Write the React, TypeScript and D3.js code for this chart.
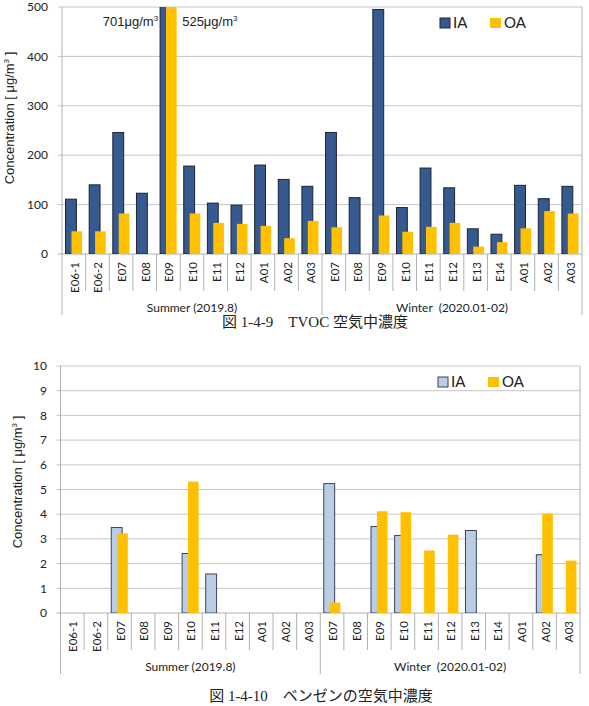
import React from "react";
import * as d3 from "d3";

const summerSites = ["E06-1", "E06-2", "E07", "E08", "E09", "E10", "E11", "E12", "A01", "A02", "A03"];
const winterSites = ["E07", "E08", "E09", "E10", "E11", "E12", "E13", "E14", "A01", "A02", "A03"];
const groupLabels = ["Summer (2019.8)", "Winter  (2020.01-02)"];

// TVOC (µg/m3): summer then winter
const tvocIA = [111, 140, 246, 123, 701, 178, 103, 99, 180, 151, 137, 246, 114, 495, 94, 174, 134, 51, 40, 139, 112, 137];
const tvocOA = [46, 46, 82, 0, 525, 82, 63, 61, 57, 32, 67, 54, 0, 78, 45, 55, 63, 15, 24, 52, 87, 82];
const tvocTicks = [0, 100, 200, 300, 400, 500];

// Benzene (µg/m3)
const benzIA = [0, 0, 3.46, 0, 0, 2.41, 1.58, 0, 0, 0, 0, 5.24, 0, 3.5, 3.14, 0, 0, 3.34, 0, 0, 2.36, 0];
const benzOA = [0, 0, 3.22, 0, 0, 5.32, 0, 0, 0, 0, 0, 0.42, 0, 4.12, 4.08, 2.53, 3.17, 0, 0, 0, 4.03, 2.12];
const benzTicks = [0, 1, 2, 3, 4, 5, 6, 7, 8, 9, 10];

const categories = [...summerSites.map((s, i) => "S" + i), ...winterSites.map((s, i) => "W" + i)];
const catLabels = [...summerSites, ...winterSites];

type ChartProps = {
  id: string;
  left: number; right: number; top: number; zero: number;
  ia: number[]; oa: number[]; ticks: number[]; max: number;
  iaFill: string; iaStroke: string;
  tickRight: number; ylabX: number; ylabY: number;
  legendY: number; legendX: number;
  annotations?: boolean;
};

function Chart(p: ChartProps) {
  const x = d3.scaleBand<string>().domain(categories).range([p.left, p.right]).padding(0);
  const y = d3.scaleLinear().domain([0, p.max]).range([p.zero, p.top]);
  const bw = x.bandwidth();
  const gridColor = "#c6c6c6";
  const axisColor = "#b0b0b0";
  const sepEnd = p.zero + 37;
  const grpEnd = p.zero + 61;
  const summerEnd = x(categories[summerSites.length])!;
  const fmt = (v: number) => String(v);
  return (
    <g>
      <defs>
        <clipPath id={p.id + "clip"}>
          <rect x={p.left} y={p.top} width={p.right - p.left} height={p.zero - p.top} />
        </clipPath>
      </defs>
      {p.ticks.map((t) => (
        <g key={t}>
          <line x1={p.left - 4} x2={p.right} y1={y(t)} y2={y(t)} stroke={t === 0 ? axisColor : gridColor} strokeWidth={1} />
          <text x={p.tickRight} y={y(t)} dy="0.35em" textAnchor="end" fontFamily="Lato, 'Open Sans', sans-serif" fontSize={12} fill="#222">{fmt(t)}</text>
        </g>
      ))}
      <line x1={p.right} x2={p.right} y1={p.top} y2={grpEnd} stroke={axisColor} />
      <line x1={p.left} x2={p.left} y1={p.top} y2={grpEnd} stroke={axisColor} />
      <line x1={summerEnd} x2={summerEnd} y1={p.zero} y2={grpEnd} stroke={axisColor} />
      {categories.map((c, i) => (
        i > 0 && i !== summerSites.length ? <line key={"s" + c} x1={x(c)!} x2={x(c)!} y1={p.zero} y2={sepEnd} stroke={axisColor} /> : null
      ))}
      <g clipPath={`url(#${p.id}clip)`}>
        {categories.map((c, i) => (
          p.ia[i] > 0 ? <rect key={"ia" + c} x={x(c)! + bw * 0.15} width={bw * 0.46} y={y(p.ia[i])} height={p.zero - y(p.ia[i])} fill={p.iaFill} stroke={p.iaStroke} strokeWidth={1} /> : null
        ))}
        {categories.map((c, i) => (
          p.oa[i] > 0 ? <rect key={"oa" + c} x={x(c)! + bw * 0.4} width={bw * 0.45} y={y(p.oa[i])} height={p.zero - y(p.oa[i])} fill="#FFC000" /> : null
        ))}
      </g>
      {categories.map((c, i) => (
        <text key={"l" + c} transform={`translate(${x(c)! + bw / 2 + 1},${p.zero + 8}) rotate(-90)`} dy="0.35em" textAnchor="end" fontFamily="Lato, 'Open Sans', sans-serif" fontSize={11.5} fill="#222">{catLabels[i]}</text>
      ))}
      <text x={(p.left + summerEnd) / 2} y={p.zero + 54} dy="0.35em" textAnchor="middle" fontFamily="Lato, 'Open Sans', sans-serif" fontSize={12} fill="#222">{groupLabels[0]}</text>
      <text x={(summerEnd + p.right) / 2} y={p.zero + 54} dy="0.35em" textAnchor="middle" fontFamily="Lato, 'Open Sans', sans-serif" fontSize={12} fill="#222" xmlSpace="preserve" style={{ whiteSpace: "pre" }}>{groupLabels[1]}</text>
      <text transform={`translate(${p.ylabX},${p.ylabY}) rotate(-90)`} dy="0.35em" textAnchor="middle" fontFamily="'Liberation Sans', Arial, sans-serif" fontSize={13} fill="#222">
        Concentration [ μg/m<tspan dy="-5" fontSize={8}>3</tspan><tspan dy="5"> ]</tspan>
      </text>
      <rect x={p.legendX} y={p.legendY - 5} width={10} height={10} fill={p.iaFill} stroke={p.iaStroke} strokeWidth={1} />
      <text x={p.legendX + 13} y={p.legendY} dy="0.35em" fontFamily="Lato, 'Open Sans', sans-serif" fontSize={15} fill="#222">IA</text>
      <rect x={p.legendX + 50} y={p.legendY - 5} width={11} height={10} fill="#FFC000" />
      <text x={p.legendX + 64} y={p.legendY} dy="0.35em" fontFamily="Lato, 'Open Sans', sans-serif" fontSize={15} fill="#222">OA</text>
      {p.annotations ? (
        <g fontFamily="'Liberation Sans', Arial, sans-serif" fontSize={13} fill="#222">
          <text x={x(categories[4])! + bw * 0.15 - 2} y={21} dy="0.35em" textAnchor="end">701μg/m<tspan dy="-5" fontSize={8}>3</tspan></text>
          <text x={x(categories[4])! + bw + 2} y={21} dy="0.35em">525μg/m<tspan dy="-5" fontSize={8}>3</tspan></text>
        </g>
      ) : null}
    </g>
  );
}

export default function App() {
  const capFont = "'Liberation Serif', 'Times New Roman', 'Noto Sans CJK JP', serif";
  return (
    <svg width={589} height={706} style={{ position: "absolute", left: 0, top: 0, background: "#fff" }}>
      <rect width={589} height={706} fill="#fff" />
      <Chart id="tvoc" left={62} right={582} top={7} zero={254} ia={tvocIA} oa={tvocOA} ticks={tvocTicks} max={500}
        iaFill="#36598F" iaStroke="#1c2433" tickRight={48} ylabX={9} ylabY={118} legendX={440} legendY={23} annotations />
      <Chart id="benz" left={60.5} right={580} top={366} zero={613} ia={benzIA} oa={benzOA} ticks={benzTicks} max={10}
        iaFill="#B9CDE5" iaStroke="#3a4556" tickRight={47} ylabX={17} ylabY={482} legendX={438} legendY={382} />
      <text x={315} y={322} dy="0.35em" textAnchor="middle" fontFamily={capFont} fontSize={15} fill="#222">図 1-4-9　TVOC 空気中濃度</text>
      <text x={321} y={696} dy="0.35em" textAnchor="middle" fontFamily={capFont} fontSize={15} fill="#222">図 1-4-10　ベンゼンの空気中濃度</text>
    </svg>
  );
}
